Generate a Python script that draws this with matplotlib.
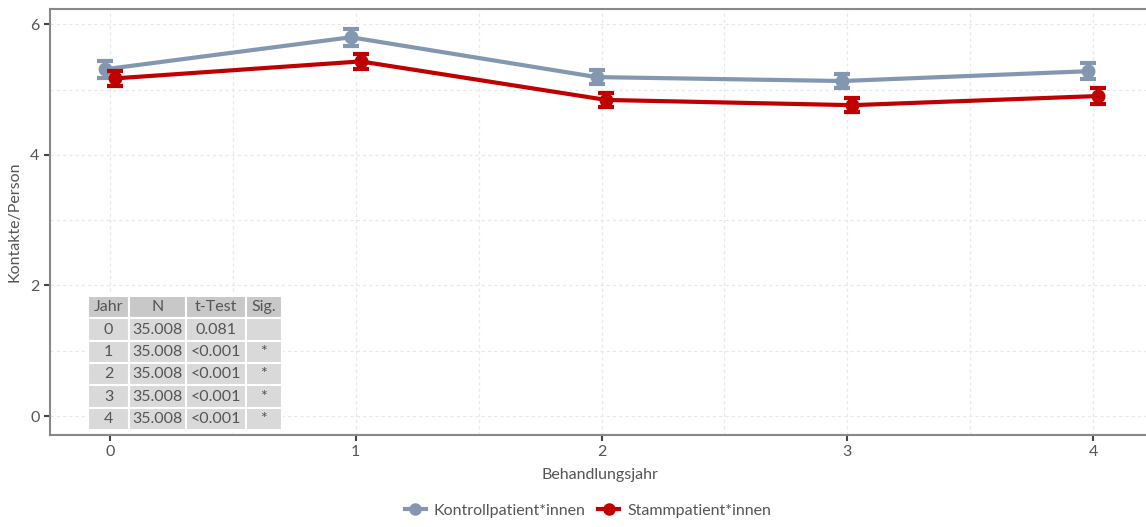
import numpy as np
import matplotlib.pyplot as plt
from matplotlib.lines import Line2D

plt.rcParams['font.family'] = ['Lato', 'DejaVu Sans']

# data
jahre = [0, 1, 2, 3, 4]
kontroll = [5.31, 5.80, 5.19, 5.13, 5.28]
kontroll_err = [0.13, 0.13, 0.11, 0.11, 0.12]
stamm = [5.17, 5.43, 4.84, 4.76, 4.90]
stamm_err = [0.12, 0.12, 0.11, 0.11, 0.12]

tab_header = ['Jahr', 'N', 't-Test', 'Sig.']
tab_jahr = ['0', '1', '2', '3', '4']
tab_n = ['35.008'] * 5
tab_ttest = ['0.081', '<0.001', '<0.001', '<0.001', '<0.001']
tab_sig = ['', '*', '*', '*', '*']

c_kontroll = '#8497b0'
c_stamm = '#c00000'
txt = '#555555'

fig = plt.figure(figsize=(11.46, 5.27), dpi=100)
ax = fig.add_axes([0.0436, 0.1746, 0.96, 0.808])

x = np.array(jahre)
dodge = 0.02
ax.errorbar(x - dodge, kontroll, yerr=kontroll_err, color=c_kontroll, lw=3,
            marker='o', ms=9, capsize=6, capthick=3, elinewidth=3, zorder=3)
ax.errorbar(x + dodge, stamm, yerr=stamm_err, color=c_stamm, lw=3,
            marker='o', ms=9, capsize=6, capthick=3, elinewidth=3, zorder=4)

ax.set_xlim(-0.244, 4.232)
ax.set_ylim(-0.29, 6.23)
ax.set_xticks(jahre)
ax.set_yticks([0, 2, 4, 6])
ax.set_xticks([0.5, 1.5, 2.5, 3.5], minor=True)
ax.set_yticks([1, 3, 5], minor=True)
ax.tick_params(which='minor', length=0)
ax.tick_params(which='major', length=4, width=1.5, color='#444444',
               labelsize=11.5, labelcolor=txt)
ax.grid(True, which='both', color='#e8e8e8', ls=(0, (2.5, 2.5)), lw=0.9)
ax.set_axisbelow(True)

for s in ['left', 'bottom', 'top']:
    ax.spines[s].set_color('#888888')
    ax.spines[s].set_linewidth(1.5)
ax.spines['right'].set_visible(False)

ax.set_xlabel('Behandlungsjahr', fontsize=11.5, color=txt, labelpad=6)
ax.set_ylabel('Kontakte/Person', fontsize=11.5, color=txt, labelpad=6)

# summary table
cells = [list(r) for r in zip(tab_jahr, tab_n, tab_ttest, tab_sig)]
tbl = ax.table(cellText=cells, colLabels=tab_header,
               colWidths=[40, 55, 58, 35], cellLoc='center',
               bbox=[0.0345, 0.0117, 0.1764, 0.3146])
tbl.set_zorder(6)
tbl.auto_set_font_size(False)
tbl.set_fontsize(11.5)
for (r, c), cell in tbl.get_celld().items():
    cell.set_edgecolor('white')
    cell.set_linewidth(1.5)
    cell.set_facecolor('#c8c8c8' if r == 0 else '#d9d9d9')
    cell.get_text().set_color(txt)

handles = [Line2D([], [], color=c_kontroll, lw=3, marker='o', ms=8),
           Line2D([], [], color=c_stamm, lw=3, marker='o', ms=8)]
fig.legend(handles, ['Kontrollpatient*innen', 'Stammpatient*innen'],
           loc='lower center', bbox_to_anchor=(0.513, -0.01), ncol=2,
           frameon=False, fontsize=11.5, labelcolor=txt, handlelength=1.3,
           handletextpad=0.5, columnspacing=0.8)

fig.savefig('out.png', dpi=100)
